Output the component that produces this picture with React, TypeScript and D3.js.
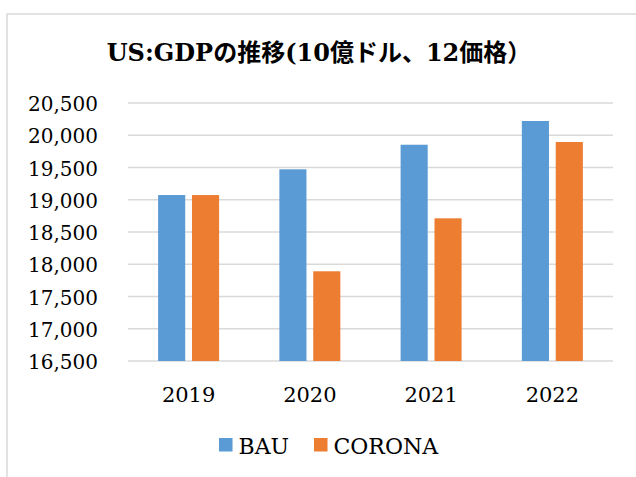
import React, { useEffect, useRef } from 'react';
import * as d3 from 'd3';

const years = ['2019', '2020', '2021', '2022'];
const seriesNames = ['BAU', 'CORONA'];
const bau = [19073, 19472, 19853, 20221];
const corona = [19073, 17891, 18712, 19895];
const yTicks = [16500, 17000, 17500, 18000, 18500, 19000, 19500, 20000, 20500];
const title = 'US:GDPの推移(10億ドル、12価格）';

const colors: { [k: string]: string } = { BAU: '#5B9BD5', CORONA: '#ED7D31' };

const App = () => {
	const ref = useRef<SVGSVGElement>(null);
	useEffect(() => drawChart());

	function drawChart() {
		const width = 636;
		const height = 477;
		const svg = d3.select(ref.current);
		svg.selectAll('*').remove();
		svg.attr('width', width).attr('height', height);

		const font = '"DejaVu Serif", "Noto Sans CJK JP", serif';

		// chart frame (runs off the right and bottom edges)
		svg.append('rect')
			.attr('x', 7).attr('y', 14)
			.attr('width', 700).attr('height', 600)
			.attr('fill', 'white')
			.attr('stroke', '#d9d9d9')
			.attr('stroke-width', 1.5);

		svg.append('text')
			.text(title)
			.attr('x', 319).attr('y', 61)
			.attr('text-anchor', 'middle')
			.attr('font-family', font)
			.attr('font-weight', 'bold')
			.attr('font-size', '24px')
			.attr('fill', '#000');

		const x0 = d3.scaleBand().domain(years).range([128, 613]);
		const x1 = d3.scaleBand().domain(seriesNames).range([30.1, 91.1]).paddingInner(0.2);
		const y = d3.scaleLinear().domain([16500, 20500]).range([361, 103]);

		// gridlines
		svg.append('g').selectAll('line')
			.data(yTicks)
			.enter()
			.append('line')
			.attr('x1', 128).attr('x2', 613)
			.attr('y1', (d) => y(d)).attr('y2', (d) => y(d))
			.attr('stroke', '#d9d9d9')
			.attr('stroke-width', 1.3);

		svg.append('g').selectAll('text')
			.data(yTicks)
			.enter()
			.append('text')
			.text((d) => d3.format(',')(d))
			.attr('x', 98)
			.attr('y', (d) => y(d) + 8)
			.attr('text-anchor', 'end')
			.attr('font-family', font)
			.attr('font-size', '20px')
			.attr('fill', '#000');

		const rows = years.map((yr, i) => ({ year: yr, values: [
			{ key: 'BAU', value: bau[i] },
			{ key: 'CORONA', value: corona[i] },
		] }));

		const groups = svg.append('g').selectAll('g')
			.data(rows)
			.enter()
			.append('g')
			.attr('transform', (d) => 'translate(' + x0(d.year) + ',0)');
		groups.selectAll('rect')
			.data((d) => d.values)
			.enter()
			.append('rect')
			.attr('x', (d) => x1(d.key) as number)
			.attr('width', x1.bandwidth())
			.attr('y', (d) => y(d.value))
			.attr('height', (d) => y(16500) - y(d.value))
			.attr('fill', (d) => colors[d.key]);

		svg.append('g').selectAll('text')
			.data(years)
			.enter()
			.append('text')
			.text((d) => d)
			.attr('x', (d) => (x0(d) as number) + x0.bandwidth() / 2)
			.attr('y', 401.5)
			.attr('text-anchor', 'middle')
			.attr('font-family', font)
			.attr('font-size', '21px')
			.attr('fill', '#000');

		// legend
		const legendX = [219, 314];
		const legend = svg.append('g').selectAll('g')
			.data(seriesNames)
			.enter()
			.append('g')
			.attr('transform', (d, i) => 'translate(' + legendX[i] + ',438)');
		legend.append('rect')
			.attr('width', 13.5).attr('height', 13.5)
			.attr('fill', (d) => colors[d]);
		legend.append('text')
			.text((d) => d)
			.attr('x', 19.5).attr('y', 15.5)
			.attr('font-family', font)
			.attr('font-size', '22px')
			.attr('fill', '#000');
	}

	return <svg ref={ref} style={{ position: 'absolute', left: 0, top: 0 }}></svg>;
};

export default App;
